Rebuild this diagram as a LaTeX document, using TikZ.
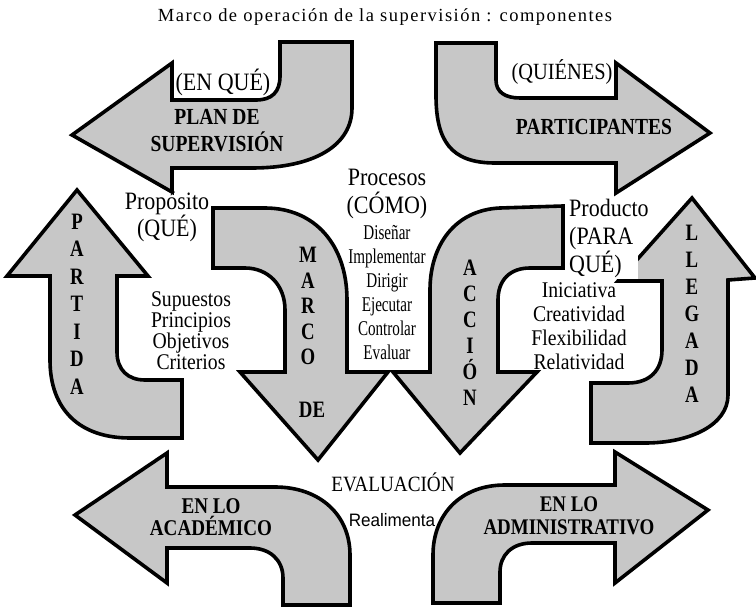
\documentclass[tikz,border=0pt]{standalone}
\usepackage{fontspec}
\newfontfamily\tifont{Liberation Serif}[LetterSpace=8]
\newfontfamily\txfont{Liberation Serif}[FakeStretch=0.88]
\newfontfamily\cnfont{Liberation Serif}[FakeStretch=0.72]
\newfontfamily\labfont{Liberation Serif}[FakeStretch=0.85]
\newfontfamily\vfont{Liberation Serif}[FakeStretch=0.8]
\newfontfamily\sansfnt{Liberation Sans}[FakeStretch=0.95]
\tikzset{
  arr/.style={fill=black!22, draw=black, line width=3.6pt, line join=miter, miter limit=4},
  ttl/.style={font=\tifont\fontsize{18.5}{22}\selectfont, inner sep=0pt},
  txt/.style={font=\txfont\fontsize{25}{25}\selectfont, inner sep=0pt, align=center},
  lst/.style={font=\txfont\fontsize{22.4}{21}\selectfont, inner sep=0pt, align=center},
  cond/.style={font=\cnfont\fontsize{21}{24}\selectfont, inner sep=0pt, align=center},
  lab/.style={font=\labfont\bfseries\fontsize{23}{27}\selectfont, inner sep=0pt, align=center},
  vlet/.style={font=\vfont\bfseries\fontsize{23.5}{27}\selectfont, inner sep=0pt, align=center},
}
\begin{document}
\begin{tikzpicture}[x=1pt,y=-1pt]
\useasboundingbox (0,0) rectangle (756,607);
% PLAN DE SUPERVISION
\draw[arr] (72,135) -- (172,63) -- (172,100) -- (256,100) .. controls (272,100) and (280,92) .. (280,76) -- (280,42) -- (352,42) -- (352,108) .. controls (352,145) and (315,168) .. (252,168) -- (172,168) -- (172,192) -- cycle;
% PARTICIPANTES
\draw[arr] (710,133) -- (616,63) -- (616,98) -- (520,98) .. controls (505,98) and (496,92) .. (496,80) -- (496,43) -- (436,43) -- (436,95) .. controls (436,140) and (450,163) .. (495,163) -- (616,163) -- (616,193) -- cycle;
% PARTIDA
\draw[arr] (77,190) -- (148,276) -- (117,276) -- (117,352) .. controls (117,370) and (128,380) .. (145,380) -- (182,380) -- (182,438) -- (130,438) .. controls (80,438) and (50,410) .. (50,360) -- (50,276) -- (7,276) -- cycle;
% MARCO DE
\draw[arr] (213,208) -- (265,208) .. controls (315,208) and (347,245) .. (347,300) -- (347,372) -- (388,372) -- (318,460) -- (240,372) -- (285,372) -- (285,310) .. controls (285,285) and (268,268) .. (245,268) -- (213,268) -- cycle;
% ACCION
\draw[arr] (563,206) -- (500,208) .. controls (455,210) and (430,245) .. (430,290) -- (430,372) -- (393,372) -- (460,453) -- (537,372) -- (498,372) -- (498,300) .. controls (498,280) and (510,268) .. (530,268) -- (563,268) -- cycle;
% LLEGADA
\draw[arr] (692,198) -- (755,278) -- (728,280) -- (728,395) .. controls (728,425) and (690,443) .. (645,443) -- (591,443) -- (591,383) -- (628,383) .. controls (650,383) and (662,370) .. (662,350) -- (662,281) -- (618,281) -- cycle;
% EN LO ACADEMICO
\draw[arr] (75,515) -- (167,453) -- (167,487) -- (275,487) .. controls (320,487) and (350,515) .. (350,555) -- (350,605) -- (283,605) -- (283,578) .. controls (283,560) and (270,548) .. (250,548) -- (167,548) -- (167,583) -- cycle;
% EN LO ADMINISTRATIVO
\draw[arr] (708,510) -- (615,452) -- (615,485) -- (505,485) .. controls (460,485) and (433,515) .. (433,555) -- (433,603) -- (500,603) -- (500,572) .. controls (500,555) and (512,543) .. (532,543) -- (615,543) -- (615,583) -- cycle;

% texts
\node[ttl] (title) at (385,17) {Marco de operación de la supervisión : componentes};
\node[txt] (enque) at (223,82) {(EN QUÉ)};
\node[lab] (plan) at (217,131) {PLAN DE\\SUPERVISIÓN};
\node[txt, font=\txfont\fontsize{23.2}{25}\selectfont] (quienes) at (562,72) {(QUIÉNES)};
\node[lab] (part) at (594,127) {PARTICIPANTES};
\node[txt] (proposito) at (167,217) {Propósito\\(QUÉ)};
\node[lst] (supuestos) at (191,331) {Supuestos\\Principios\\Objetivos\\Criterios};
\node[vlet, font=\vfont\bfseries\fontsize{23.5}{27.5}\selectfont] (partida) at (77,304) {P\\A\\R\\T\\I\\D\\A};
\node[vlet, font=\vfont\bfseries\fontsize{23.5}{25.5}\selectfont] (marco) at (308,306) {M\\A\\R\\C\\O};
\node[vlet] (de) at (312,410) {DE};
\node[txt, font=\txfont\fontsize{25}{28}\selectfont] (procesos) at (387,194) {Procesos\\(CÓMO)};
\node[cond] (disenar) at (387,293) {Diseñar\\Implementar\\Dirigir\\Ejecutar\\Controlar\\Evaluar};
\node[vlet, font=\vfont\bfseries\fontsize{23.5}{26}\selectfont] (accion) at (470,333) {A\\C\\C\\I\\Ó\\N};
\node[txt, font=\txfont\fontsize{25}{28}\selectfont, fill=white, align=left, text width=68pt, inner sep=1pt, anchor=north west] (producto) at (568,198) {Producto\\(PARA\\QUÉ)};
\node[lst, font=\txfont\fontsize{22.4}{24}\selectfont] (iniciativa) at (579,326) {Iniciativa\\Creatividad\\Flexibilidad\\Relatividad};
\node[vlet] (llegada) at (692,314) {L\\L\\E\\G\\A\\D\\A};
\node[txt, font=\txfont\fontsize{21.8}{22}\selectfont] (eval) at (393,482) {EVALUACIÓN};
\node[inner sep=0pt, font=\sansfnt\fontsize{18}{20}\selectfont] (realimenta) at (392,520) {Realimenta};
\node[lab, font=\labfont\bfseries\fontsize{22.5}{22.5}\selectfont] (acad) at (211,517) {EN LO\\ACADÉMICO};
\node[lab, font=\labfont\bfseries\fontsize{22.3}{22.5}\selectfont] (admin) at (569,516) {EN LO\\ADMINISTRATIVO};
\end{tikzpicture}
\end{document}
